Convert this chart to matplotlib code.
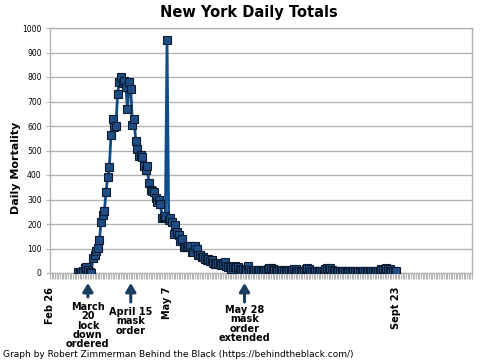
import numpy as np
import pandas as pd
import matplotlib
matplotlib.use('Agg')
import matplotlib.pyplot as plt
import matplotlib.dates as mdates

plt.rcParams['font.family'] = ['DejaVu Sans']

# daily deaths, New York, starting 2020-03-14
start = '2020-03-14'
mar = [3, 5, 4, 8, 20, 25, 12, 5, 0, 62, 72, 90, 102, 135, 209, 237, 253, 332]
apr = [391, 432, 562, 630, 594, 599, 731, 779, 799, 777, 783, 758, 671, 778, 752,
       606, 630, 540, 507, 478, 481, 474, 438, 422, 437, 367, 337, 335, 330, 306]
may = [289, 299, 280, 226, 230, 232, 950, 216, 226, 207, 161, 195, 166, 157, 132, 139,
       106, 106, 105, 112, 109, 84, 84, 109, 96, 73, 74, 67, 67, 56, 54]
jun = [58, 49, 52, 42, 35, 35, 42, 41, 32, 36, 45, 29, 23, 25, 17, 25, 30, 24, 24, 15,
       14, 17, 13, 14, 27, 13, 5, 13, 10, 12]
jul = [10, 13, 8, 11, 9, 12, 18, 22, 20, 15, 12, 9, 8, 10, 13, 11, 9, 12, 9, 8,
       10, 14, 16, 15, 10, 9, 8, 6, 7, 18, 20]
aug = [16, 6, 7, 9, 10, 8, 7, 6, 8, 10, 18, 20, 17, 19, 12, 8, 10, 9, 8, 6,
       7, 9, 8, 7, 6, 8, 10, 7, 6, 5, 7]
sep = [6, 8, 7, 10, 9, 6, 5, 7, 8, 6, 7, 9, 8, 16, 18, 18, 20, 15, 17, 9, 8, 6, 8]
deaths = mar + apr + may + jun + jul + aug + sep
dates = pd.date_range(start, periods=len(deaths), freq='D')

tick_dates = pd.to_datetime(['2020-02-26', '2020-05-07', '2020-09-23'])
tick_labels = ['Feb 26', 'May 7', 'Sept 23']

# the third arrow sits further right than its date in the original graph
note_dates = pd.to_datetime(['2020-03-20', '2020-04-15', '2020-06-23'])
notes = ['March\n20\nlock\ndown\nordered', 'April 15\nmask\norder', 'May 28\nmask\norder\nextended']
note_tops = [302, 307, 305]  # pixels from top
arrow_tails = [297, 302, 302]

navy = '#1b3d5e'
grid_c = '#b4b4b4'

fig = plt.figure(figsize=(5, 3.62), dpi=100)
ax = fig.add_axes([50 / 500, (362 - 273) / 362, 422 / 500, 245 / 362])

ax.plot(dates, deaths, color='#0f4c8a', lw=2.0, marker='s', markersize=5.5,
        markerfacecolor='#1f4e85', markeredgecolor='#0a1a30', markeredgewidth=0.8,
        zorder=3)

x0 = pd.Timestamp('2020-02-26')
ax.set_xlim(x0, x0 + pd.Timedelta(days=256))
ax.set_ylim(0, 1000)
ax.set_yticks(np.arange(0, 1001, 100))
ax.yaxis.grid(True, color=grid_c, lw=1.0)
ax.set_axisbelow(True)

ax.set_xticks(tick_dates)
ax.set_xticklabels(tick_labels, rotation=90, fontsize=7, fontweight='bold', va='top')
ax.xaxis.set_minor_locator(mdates.DayLocator())
ax.tick_params(axis='x', which='both', length=4, width=0.8, color=grid_c, pad=6)
ax.tick_params(axis='y', length=3, width=0.8, color=grid_c, labelsize=5.5, pad=3)

for s in ax.spines.values():
    s.set_color(grid_c)
    s.set_linewidth(1.0)

ax.set_ylabel('Daily Mortality', fontsize=8, fontweight='bold')
ax.yaxis.set_label_coords(-0.068, 0.43)
fig.text(0.497, 1 - 17 / 362, 'New York Daily Totals', ha='center', va='baseline',
         fontsize=10.5, fontweight='bold')

for d, txt, top, tail in zip(note_dates, notes, note_tops, arrow_tails):
    ax.annotate('', xy=(d, 362 - 283), xytext=(d, 362 - tail),
                xycoords=('data', 'figure pixels'), textcoords=('data', 'figure pixels'),
                arrowprops=dict(arrowstyle='-|>,head_width=0.3,head_length=0.5',
                                lw=2.2, color=navy, shrinkA=0, shrinkB=0))
    ax.annotate(txt, xy=(d, 362 - top), xycoords=('data', 'figure pixels'),
                ha='center', va='top', fontsize=7, fontweight='bold', linespacing=0.92)

fig.text(3 / 500, 1 - 357 / 362,
         'Graph by Robert Zimmerman Behind the Black (https://behindtheblack.com/)',
         fontsize=6.5, va='baseline', ha='left')

fig.savefig('out.png', dpi=100)
